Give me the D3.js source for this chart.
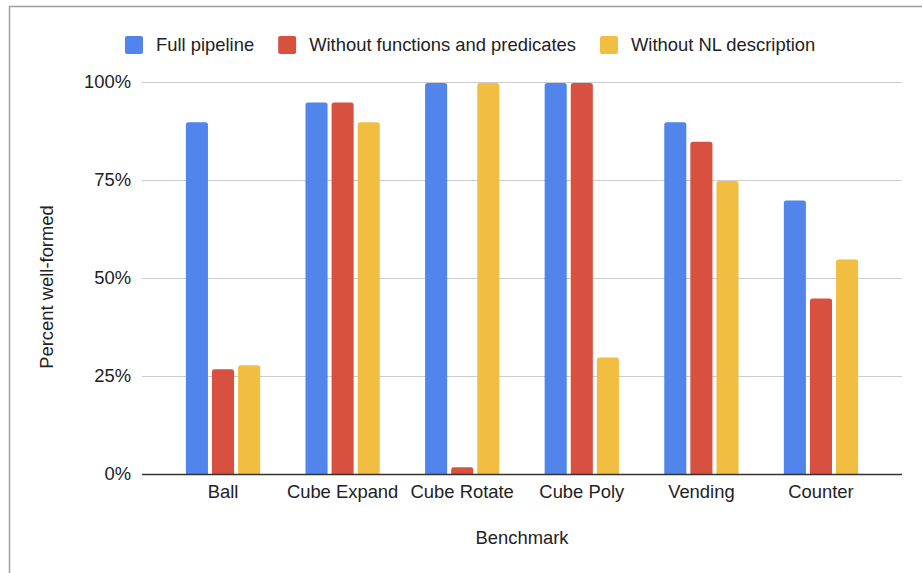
<!DOCTYPE html>
<html>
<head>
<meta charset="utf-8">
<script src="https://cdn.jsdelivr.net/npm/d3@7"></script>
<style>
  html, body { margin: 0; padding: 0; background: #fff; }
  svg { display: block; font-family: "Liberation Sans", Arial, Helvetica, sans-serif; }
</style>
</head>
<body>
<svg id="chart" width="922" height="573"></svg>
<script>
const categories = ["Ball", "Cube Expand", "Cube Rotate", "Cube Poly", "Vending", "Counter"];
const seriesNames = ["Full pipeline", "Without functions and predicates", "Without NL description"];
const fullPipeline = [90, 95, 100, 100, 90, 70];
const withoutFunctions = [27, 95, 2, 100, 85, 45];
const withoutNL = [28, 90, 100, 30, 75, 55];
const yTicks = [0, 25, 50, 75, 100];
const colors = ["#5185EC", "#D85140", "#F1BE42"];

const seriesValues = [fullPipeline, withoutFunctions, withoutNL];
const FS = 18.4;

const svg = d3.select("#chart");

// outer frame
svg.append("path")
  .attr("d", "M9.5,930 L9.5,6.5 L930,6.5")
  .attr("fill", "none")
  .attr("stroke", "#a0a0a0")
  .attr("stroke-width", 1.5);

const plotLeft = 142, plotRight = 902, plotTop = 82, plotBottom = 474;

const y = d3.scaleLinear().domain([0, 100]).range([plotBottom, plotTop]);
const x0 = d3.scaleBand().domain(categories).range([plotLeft, plotRight])
  .paddingInner(0.379).paddingOuter(0.367);
const x1 = d3.scaleBand().domain(seriesNames).range([0, x0.bandwidth()])
  .paddingInner(0.154).paddingOuter(0);

// gridlines
svg.append("g").selectAll("line")
  .data(yTicks.filter(t => t !== 0))
  .join("line")
  .attr("x1", plotLeft).attr("x2", plotRight)
  .attr("y1", d => y(d) + 0.5).attr("y2", d => y(d) + 0.5)
  .attr("stroke", "#cccccc").attr("stroke-width", 1);

// y tick labels
svg.append("g").selectAll("text")
  .data(yTicks)
  .join("text")
  .attr("x", 131)
  .attr("y", d => y(d))
  .attr("dy", "0.35em")
  .attr("text-anchor", "end")
  .attr("font-size", FS)
  .attr("fill", "#222")
  .text(d => d + "%");

// bars
function barPath(x, w, yTop, yBase, r) {
  const h = yBase - yTop;
  const rr = Math.min(r, h, w / 2);
  return `M${x},${yBase} L${x},${yTop + rr} Q${x},${yTop} ${x + rr},${yTop} L${x + w - rr},${yTop} Q${x + w},${yTop} ${x + w},${yTop + rr} L${x + w},${yBase} Z`;
}

const barData = [];
categories.forEach((c, i) => {
  seriesNames.forEach((s, j) => {
    barData.push({ cat: c, series: s, value: seriesValues[j][i], color: colors[j] });
  });
});

svg.append("g").selectAll("path")
  .data(barData)
  .join("path")
  .attr("d", d => barPath(x0(d.cat) + x1(d.series), x1.bandwidth(), y(d.value) + 1, y(0), 2.5))
  .attr("fill", d => d.color);

// baseline
svg.append("line")
  .attr("x1", plotLeft).attr("x2", plotRight)
  .attr("y1", y(0) + 0.5).attr("y2", y(0) + 0.5)
  .attr("stroke", "#333").attr("stroke-width", 1.5);

// x labels
svg.append("g").selectAll("text")
  .data(categories)
  .join("text")
  .attr("x", d => x0(d) + x0.bandwidth() / 2)
  .attr("y", 498)
  .attr("text-anchor", "middle")
  .attr("font-size", FS)
  .attr("fill", "#222")
  .text(d => d);

// axis titles
svg.append("text")
  .attr("x", (plotLeft + plotRight) / 2)
  .attr("y", 544)
  .attr("text-anchor", "middle")
  .attr("font-size", FS)
  .attr("fill", "#222")
  .text("Benchmark");

svg.append("text")
  .attr("transform", "translate(53,287) rotate(-90)")
  .attr("text-anchor", "middle")
  .attr("font-size", FS)
  .attr("fill", "#222")
  .text("Percent well-formed");

// legend
const legend = svg.append("g");
let lx = 125;
seriesNames.forEach((s, j) => {
  legend.append("rect")
    .attr("x", lx).attr("y", 36)
    .attr("width", 18).attr("height", 18)
    .attr("rx", 2)
    .attr("fill", colors[j]);
  const t = legend.append("text")
    .attr("x", lx + 31).attr("y", 51)
    .attr("font-size", FS)
    .attr("fill", "#222")
    .text(s);
  lx += 31 + t.node().getComputedTextLength() + 24;
});
</script>
</body>
</html>
